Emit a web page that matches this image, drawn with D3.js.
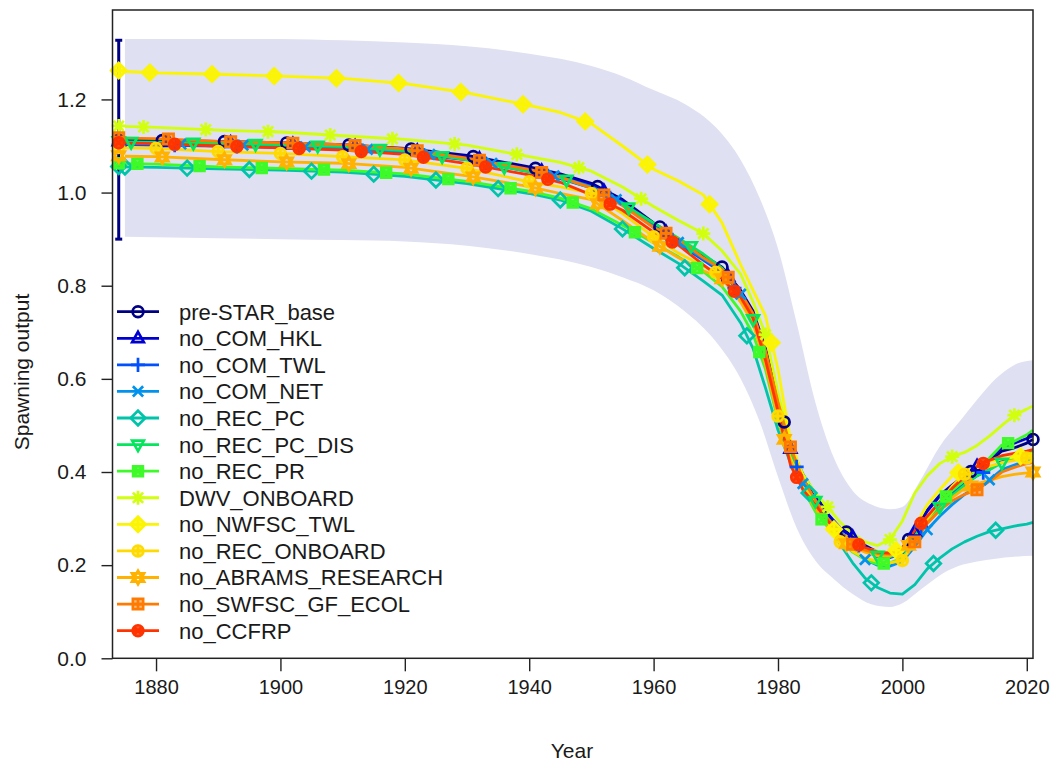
<!DOCTYPE html>
<html><head><meta charset="utf-8">
<script src="https://cdn.jsdelivr.net/npm/d3@7"></script>
<style>
body{margin:0;background:#fff}
text{font-family:"Liberation Sans",Arial,sans-serif;fill:#1a1a1a}
</style>
</head><body>
<svg id="chart" width="1058" height="769"></svg>
<script>
// ---------------- data ----------------
const years = [1875,1880,1890,1900,1910,1920,1930,1940,1945,1950,1955,1960,1964,1968,1971,1974,1976,1978,1980,1982,1984,1986,1988,1990,1992,1994,1996,1998,2000,2002,2004,2006,2008,2010,2012,2014,2016,2018,2020,2021];

const seriesNames = ["pre-STAR_base","no_COM_HKL","no_COM_TWL","no_COM_NET","no_REC_PC","no_REC_PC_DIS","no_REC_PR","DWV_ONBOARD","no_NWFSC_TWL","no_REC_ONBOARD","no_ABRAMS_RESEARCH","no_SWFSC_GF_ECOL","no_CCFRP"];
const seriesColors = ["#000083","#0001D0","#0051FD","#0092ED","#00C4AA","#05E65E","#3DFA28","#D2FF0D","#FBF403","#FFDA01","#FFB200","#FF7A00","#FF3300"];
const virginYear = 1874;
const virginValues = [1.113,1.110,1.103,1.106,1.056,1.110,1.063,1.143,1.262,1.097,1.079,1.118,1.107];
const virginBar = [0.900, 1.327];

const preSTARbase = [1.113,1.112,1.110,1.107,1.103,1.095,1.080,1.055,1.040,1.020,0.985,0.935,0.900,0.865,0.840,0.790,0.745,0.665,0.560,0.455,0.395,0.352,0.310,0.280,0.262,0.242,0.228,0.226,0.235,0.275,0.318,0.350,0.372,0.392,0.410,0.422,0.445,0.452,0.462,0.470];
const noCOMHKL = [1.110,1.109,1.107,1.104,1.100,1.092,1.077,1.052,1.037,1.017,0.982,0.932,0.897,0.862,0.836,0.786,0.740,0.660,0.555,0.450,0.388,0.348,0.308,0.278,0.260,0.240,0.226,0.224,0.234,0.272,0.316,0.348,0.370,0.392,0.412,0.428,0.452,0.462,0.472,0.478];
const noCOMTWL = [1.103,1.102,1.100,1.097,1.093,1.085,1.070,1.045,1.030,1.010,0.975,0.925,0.890,0.855,0.828,0.778,0.732,0.650,0.545,0.442,0.380,0.340,0.300,0.270,0.252,0.232,0.218,0.216,0.225,0.262,0.302,0.332,0.355,0.375,0.392,0.405,0.425,0.432,0.440,0.445];
const noCOMNET = [1.106,1.105,1.103,1.100,1.096,1.088,1.073,1.048,1.033,1.013,0.978,0.928,0.893,0.858,0.832,0.782,0.735,0.652,0.545,0.440,0.375,0.332,0.290,0.258,0.232,0.212,0.200,0.198,0.208,0.240,0.276,0.305,0.330,0.352,0.370,0.383,0.405,0.415,0.425,0.430];
const noRECPC = [1.055,1.054,1.051,1.048,1.044,1.035,1.019,0.998,0.984,0.960,0.922,0.880,0.848,0.810,0.780,0.720,0.665,0.580,0.490,0.420,0.375,0.335,0.290,0.245,0.205,0.172,0.152,0.140,0.138,0.158,0.192,0.215,0.235,0.250,0.262,0.272,0.278,0.284,0.288,0.292];
const noRECPCDIS = [1.109,1.108,1.106,1.103,1.099,1.090,1.070,1.045,1.032,1.010,0.976,0.935,0.902,0.868,0.838,0.785,0.728,0.645,0.540,0.440,0.378,0.338,0.300,0.270,0.250,0.232,0.220,0.218,0.228,0.262,0.300,0.325,0.350,0.372,0.392,0.405,0.420,0.430,0.440,0.445];
const noRECPR = [1.062,1.061,1.055,1.052,1.048,1.040,1.024,1.003,0.988,0.965,0.930,0.892,0.862,0.830,0.798,0.745,0.695,0.620,0.510,0.425,0.365,0.315,0.282,0.252,0.228,0.212,0.202,0.205,0.215,0.250,0.298,0.335,0.360,0.382,0.408,0.430,0.458,0.466,0.480,0.490];
const dwvONBOARD = [1.142,1.140,1.134,1.130,1.122,1.114,1.102,1.077,1.065,1.046,1.012,0.970,0.940,0.912,0.875,0.825,0.765,0.695,0.570,0.460,0.395,0.355,0.325,0.292,0.268,0.250,0.242,0.255,0.295,0.355,0.392,0.418,0.433,0.442,0.457,0.477,0.500,0.522,0.535,0.542];
const noNWFSCTWL = [1.260,1.257,1.254,1.250,1.245,1.234,1.214,1.187,1.172,1.148,1.100,1.050,1.025,0.995,0.935,0.845,0.790,0.735,0.620,0.470,0.385,0.335,0.292,0.262,0.246,0.236,0.230,0.226,0.238,0.282,0.330,0.362,0.392,0.406,0.416,0.422,0.428,0.432,0.436,0.440];
const noRECONBOARD = [1.096,1.095,1.088,1.084,1.077,1.070,1.052,1.023,1.012,0.998,0.955,0.905,0.870,0.842,0.822,0.772,0.725,0.640,0.520,0.430,0.370,0.330,0.290,0.250,0.230,0.215,0.208,0.205,0.210,0.250,0.300,0.335,0.370,0.395,0.405,0.412,0.420,0.425,0.430,0.432];
const noABRAMS = [1.078,1.077,1.071,1.066,1.063,1.054,1.036,1.013,0.998,0.985,0.940,0.893,0.860,0.832,0.815,0.765,0.718,0.630,0.515,0.425,0.362,0.322,0.282,0.252,0.240,0.228,0.220,0.220,0.230,0.255,0.290,0.318,0.345,0.365,0.375,0.382,0.390,0.395,0.398,0.400];
const noSWFSC = [1.117,1.116,1.110,1.107,1.103,1.094,1.074,1.050,1.033,1.010,0.972,0.925,0.900,0.860,0.835,0.785,0.740,0.660,0.550,0.454,0.385,0.340,0.300,0.268,0.245,0.232,0.225,0.224,0.232,0.250,0.290,0.318,0.338,0.352,0.362,0.380,0.400,0.410,0.418,0.420];
const noCCFRP = [1.106,1.105,1.100,1.096,1.091,1.082,1.062,1.038,1.022,0.995,0.962,0.915,0.887,0.845,0.815,0.775,0.730,0.640,0.530,0.415,0.362,0.330,0.295,0.268,0.250,0.238,0.228,0.226,0.238,0.275,0.305,0.335,0.365,0.390,0.412,0.425,0.435,0.440,0.445,0.448];

const seriesValues = [preSTARbase,noCOMHKL,noCOMTWL,noCOMNET,noRECPC,noRECPCDIS,noRECPR,dwvONBOARD,noNWFSCTWL,noRECONBOARD,noABRAMS,noSWFSC,noCCFRP];

// uncertainty band of the base model
const bandYears = [1875,1890,1900,1910,1920,1930,1940,1950,1955,1960,1965,1970,1974,1977,1980,1983,1986,1989,1992,1995,1998,2000,2003,2006,2009,2012,2015,2018,2021];
const bandUpper = [1.330,1.330,1.330,1.327,1.322,1.314,1.298,1.272,1.250,1.220,1.190,1.140,1.070,0.990,0.880,0.720,0.550,0.430,0.360,0.330,0.320,0.325,0.385,0.455,0.505,0.555,0.600,0.630,0.640];
const bandLower = [0.905,0.902,0.900,0.898,0.895,0.886,0.868,0.840,0.818,0.790,0.745,0.680,0.600,0.510,0.390,0.280,0.210,0.170,0.138,0.116,0.110,0.118,0.148,0.178,0.198,0.208,0.214,0.218,0.220];

const xTicks = [1880,1900,1920,1940,1960,1980,2000,2020];
const yTicks = [0,0.2,0.4,0.6,0.8,1.0,1.2];
const yTickLabels = ["0.0","0.2","0.4","0.6","0.8","1.0","1.2"];
const markerSpacing = 10;

// ---------------- drawing ----------------
const svg = d3.select("#chart");
const x = d3.scaleLinear().domain([1873, 2021]).range([112.5, 1033]);
const y = d3.scaleLinear().domain([0, 1.392]).range([658.3, 10]);

// band
const bandData = bandYears.map((yr,i)=>({yr, hi: bandUpper[i], lo: bandLower[i]}));
svg.append("path")
  .attr("d", d3.area().x(d=>x(d.yr)).y0(d=>y(d.lo)).y1(d=>y(d.hi)).curve(d3.curveMonotoneX)(bandData))
  .attr("fill", "#dfe0f1");

// marker shapes (R pch 1..13)
function pchPath(p, s) {
  const c = (r)=>`M${-r},0A${r},${r} 0 1,0 ${r},0A${r},${r} 0 1,0 ${-r},0`;
  const plus = (r)=>`M${-r},0H${r}M0,${-r}V${r}`;
  const cross = (r)=>`M${-r},${-r}L${r},${r}M${-r},${r}L${r},${-r}`;
  const sq = (r)=>`M${-r},${-r}H${r}V${r}H${-r}Z`;
  const dia = (r)=>`M0,${-r}L${r},0L0,${r}L${-r},0Z`;
  const tu = (r)=>`M0,${-r}L${r*0.9},${r*0.6}L${-r*0.9},${r*0.6}Z`;
  const td = (r)=>`M0,${r}L${r*0.9},${-r*0.6}L${-r*0.9},${-r*0.6}Z`;
  switch(p){
    case 1: return c(s);
    case 2: return tu(s*1.2);
    case 3: return plus(s*1.3);
    case 4: return cross(s*0.95);
    case 5: return dia(s*1.35);
    case 6: return td(s*1.2);
    case 7: return sq(s*0.9)+cross(s*0.9);
    case 8: return plus(s*1.3)+cross(s*0.95);
    case 9: return dia(s*1.4)+plus(s*1.4);
    case 10: return c(s)+plus(s);
    case 11: return tu(s*1.25)+td(s*1.25);
    case 12: return sq(s*0.95)+plus(s*0.95);
    case 13: return c(s)+cross(s*0.72);
  }
}
// symbols whose inner strokes make them look solid in the original
const pchFillOpacity = [0,0,0,0,0,0,0.7,0,0.8,0.6,0.6,0.5,0.8];
const msize = 5.4;

// virgin error bar for base model
const eb = svg.append("g").attr("stroke", seriesColors[0]).attr("stroke-width", 3).attr("fill","none");
eb.append("line").attr("x1", x(virginYear)).attr("x2", x(virginYear)).attr("y1", y(virginBar[0])).attr("y2", y(virginBar[1]));
virginBar.forEach(v=>eb.append("line").attr("x1", x(virginYear)-3.5).attr("x2", x(virginYear)+3.5).attr("y1", y(v)).attr("y2", y(v)));

// lines
const lineGen = d3.line().x(d=>x(d[0])).y(d=>y(d[1]));
seriesValues.forEach((vals,i)=>{
  svg.append("path")
    .attr("d", lineGen(years.map((yr,j)=>[yr, vals[j]])))
    .attr("fill","none").attr("stroke", seriesColors[i])
    .attr("stroke-width", 2.8).attr("stroke-linejoin","round");
});

// markers along lines (every 10 years, staggered by model)
function styleMarker(sel, i) {
  sel.attr("stroke", seriesColors[i]).attr("stroke-width", 2.7)
     .attr("fill", seriesColors[i]).attr("fill-opacity", pchFillOpacity[i]);
}
seriesValues.forEach((vals,i)=>{
  const along = d3.scaleLinear().domain(years).range(vals);
  const digit = (i+1) % markerSpacing;
  const mYears = d3.range(years[0], years[years.length-1]+1).filter(yr => yr % markerSpacing === digit);
  const g = svg.append("g");
  mYears.forEach(yr=>{
    g.append("path").attr("d", pchPath(i+1, msize))
      .attr("transform", `translate(${x(yr)},${y(along(yr))})`).call(styleMarker, i);
  });
  g.append("path").attr("d", pchPath(i+1, msize))
    .attr("transform", `translate(${x(virginYear)},${y(virginValues[i])})`).call(styleMarker, i);
});

// axes
const xAxis = d3.axisBottom(x).tickValues(xTicks).tickFormat(d3.format("d")).tickSize(13).tickPadding(9);
const gx = svg.append("g").attr("transform", "translate(0,658.3)").call(xAxis);
gx.select(".domain").remove();
const yAxis = d3.axisLeft(y).tickValues(yTicks).tickFormat((d,i)=>yTickLabels[i]).tickSize(11).tickPadding(15);
const gy = svg.append("g").attr("transform", "translate(112.5,0)").call(yAxis);
gy.select(".domain").remove();
[gx, gy].forEach(g=>{
  g.selectAll(".tick line").attr("stroke","#222").attr("stroke-width",1.4);
  g.selectAll(".tick text").attr("fill","#1a1a1a").style("font-family","'Liberation Sans',Arial,sans-serif");
});
gx.selectAll(".tick text").attr("font-size", 20);
gy.selectAll(".tick text").attr("font-size", 21);

// box
svg.append("rect").attr("x",112.5).attr("y",10).attr("width",1033-112.5).attr("height",658.3-10)
  .attr("fill","none").attr("stroke","#222").attr("stroke-width",1.5);

// axis titles
svg.append("text").attr("x", 572).attr("y", 758).attr("text-anchor","middle").attr("font-size",21).text("Year");
svg.append("text").attr("transform","translate(29,372) rotate(-90)").attr("text-anchor","middle").attr("font-size",21).text("Spawning output");

// legend
const leg = svg.append("g");
seriesNames.forEach((name,i)=>{
  const cy = 311.7 + i*26.58;
  leg.append("line").attr("x1",117).attr("x2",159).attr("y1",cy).attr("y2",cy)
    .attr("stroke", seriesColors[i]).attr("stroke-width",2.8);
  leg.append("path").attr("d", pchPath(i+1, msize)).attr("transform",`translate(138,${cy})`).call(styleMarker, i);
  leg.append("text").attr("x",179).attr("y",cy).attr("dy","0.36em").attr("font-size",22).text(name);
});
</script>
</body></html>
